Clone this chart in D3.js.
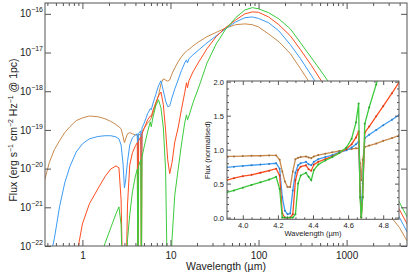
<!DOCTYPE html>
<html>
<head>
<meta charset="utf-8">
<script src="https://cdn.jsdelivr.net/npm/d3@7"></script>
<style>
  body { margin: 0; background: #fff; }
  text { font-family: "Liberation Sans", Arial, Helvetica, sans-serif; fill: #222; }
</style>
</head>
<body>
<svg id="chart" width="411" height="274"></svg>
<script>
// main SED: wavelength grid (um) and log10 flux (erg s-1 cm-2 Hz-1 @ 1pc) per model
const wave = [0.37,0.42,0.48,0.55,0.63,0.72,0.85,1.0,1.2,1.5,1.8,2.1,2.4,2.6,2.75,2.9,3.0,3.1,3.25,3.45,
  3.7,4.0,4.2,4.27,4.35,4.6,4.67,4.75,5.0,5.5,5.9,6.05,6.3,6.8,7.3,7.8,8.3,8.8,9.3,9.8,
  10.4,11.2,12.2,13.3,14.5,15.2,15.6,16.2,18,21,26,33,42,55,70,85,100,130,170,230,
  300,400,550,750,1000,1500,2000,3000,4000,5000];

const brownLogF = [-20.32,-19.85,-19.51,-19.28,-19.07,-18.92,-18.76,-18.69,-18.64,-18.66,
  -18.71,-18.78,-18.86,-18.92,-18.97,-19.18,-19.33,-19.23,-19.10,-19.07,
  -19.10,-19.13,-19.13,-19.49,-19.13,-19.10,-19.36,-19.07,-18.97,-18.82,
  -18.74,-18.69,-18.58,-18.33,-18.12,-17.81,-17.68,-17.71,-17.74,-17.71,
  -17.55,-17.40,-17.24,-17.11,-17.01,-16.96,-16.94,-16.92,-16.83,-16.72,
  -16.59,-16.48,-16.37,-16.28,-16.26,-16.28,-16.34,-16.52,-16.72,-17.03,
  -17.42,-17.86,-18.38,-18.89,-19.36,-20.03,-20.50,-21.17,-21.53,-21.92];

const blueLogF = [-23.13,-22.41,-21.81,-20.99,-20.37,-19.95,-19.57,-19.36,-19.23,-19.17,
  -19.15,-19.15,-19.18,-19.23,-19.39,-19.90,-20.50,-20.29,-19.82,-19.39,
  -19.20,-19.13,-19.10,-20.39,-19.09,-19.02,-20.55,-18.95,-18.84,-18.58,
  -18.45,-18.48,-18.33,-18.09,-17.86,-17.73,-17.99,-18.25,-18.40,-18.38,
  -18.17,-17.94,-17.71,-17.47,-17.27,-17.19,-17.27,-17.16,-17.06,-16.93,
  -16.75,-16.57,-16.39,-16.21,-16.10,-16.08,-16.12,-16.23,-16.44,-16.80,
  -17.16,-17.60,-18.09,-18.58,-19.02,-19.67,-20.13,-20.81,-21.27,-21.69];

const redLogF = [null,null,null,null,null,-23.00,-22.31,-21.43,-20.91,-20.52,
  -20.21,-20.01,-19.93,-19.98,-20.81,-23.5,-23.5,-23.5,-20.94,-19.90,
  -19.59,-19.41,-19.33,-23.5,-19.28,-19.18,-23.5,-19.10,-18.97,-18.74,
  -18.64,-18.66,-18.51,-18.30,-18.12,-18.02,-18.35,-19.00,-19.77,-20.13,
  -19.85,-19.31,-18.95,-18.48,-18.04,-17.78,-17.91,-17.73,-17.50,-17.24,
  -16.90,-16.59,-16.36,-16.16,-16.00,-15.95,-15.96,-16.08,-16.28,-16.57,
  -16.93,-17.34,-17.83,-18.33,-18.79,-19.46,-19.93,-20.60,-21.07,-21.48];

const greenLogF = [null,null,null,null,null,null,null,null,null,-22.49,
  -21.94,-21.53,-21.17,-20.99,-21.45,-23.5,-23.5,-23.5,-21.84,-21.19,
  -20.60,-20.19,-20.01,-23.5,-19.93,-19.77,-23.5,-19.70,-19.46,-19.05,
  -18.79,-18.92,-18.69,-18.38,-18.22,-18.43,-18.95,-20.03,-23.5,-23.5,
  -21.84,-20.68,-20.03,-19.39,-18.82,-18.61,-18.74,-18.64,-18.30,-17.89,
  -17.27,-16.78,-16.41,-16.10,-15.90,-15.84,-15.87,-15.97,-16.13,-16.39,
  -16.75,-17.14,-17.58,-18.02,-18.48,-19.15,-19.64,-20.37,-20.88,-21.30];

// inset: normalised flux around the CO2 / CO ice bands
const insetWave = [3.91,3.95,4.00,4.05,4.10,4.15,4.19,4.21,4.225,4.24,4.255,4.27,4.285,4.30,4.315,4.33,
  4.36,4.375,4.39,4.405,4.43,4.47,4.51,4.55,4.59,4.62,4.645,4.66,4.668,4.675,4.683,4.695,4.72,4.76,4.80,4.85,4.89];
const brownNorm = [0.90,0.90,0.905,0.91,0.91,0.915,0.915,0.85,0.68,0.53,0.45,0.45,0.68,0.86,0.88,0.89,
  0.90,0.885,0.875,0.90,0.92,0.94,0.96,0.98,1.00,1.01,1.02,1.02,0.80,0.55,0.85,1.04,1.06,1.09,1.13,1.17,1.21];
const blueNorm = [0.74,0.75,0.76,0.77,0.78,0.79,0.80,0.72,0.30,0.10,0.05,0.06,0.40,0.66,0.77,0.80,
  0.82,0.785,0.77,0.82,0.86,0.89,0.92,0.96,0.99,1.03,1.08,1.12,0.45,0.02,0.50,1.17,1.22,1.29,1.36,1.44,1.51];
const redNorm = [0.55,0.58,0.61,0.63,0.66,0.69,0.72,0.62,0.06,0.0,0.0,0.0,0.05,0.55,0.70,0.75,
  0.77,0.71,0.69,0.78,0.82,0.86,0.90,0.95,1.01,1.08,1.18,1.27,0.40,0.0,0.30,1.25,1.34,1.49,1.64,1.83,1.99];
const greenNorm = [0.37,0.40,0.44,0.48,0.52,0.56,0.60,0.42,0.0,0.0,0.0,0.0,0.0,0.05,0.50,0.62,
  0.66,0.60,0.55,0.70,0.78,0.84,0.89,0.95,1.03,1.16,1.40,1.68,0.30,0.0,0.30,1.38,1.62,1.96,2.30,null,null];

const xTickLabels = [1, 10, 100, 1000];
const yTickExps = [-22, -21, -20, -19, -18, -17, -16];
const insetXTicks = [4.0, 4.2, 4.4, 4.6, 4.8];
const insetYTicks = [0.0, 0.5, 1.0, 1.5, 2.0];

const models = [
  { color: '#c98a4c', logF: brownLogF, norm: brownNorm },
  { color: '#3d9bf5', logF: blueLogF, norm: blueNorm },
  { color: '#ff4d1f', logF: redLogF, norm: redNorm },
  { color: '#3ccb3c', logF: greenLogF, norm: greenNorm }
];

const svg = d3.select('#chart');
const axisCol = '#555';
const m = { left: 45, right: 407, top: 3, bottom: 246 };

const x = d3.scaleLog().domain([0.376, 4850]).range([m.left, m.right]);
const y = d3.scaleLog().domain([1e-22, Math.pow(10, -15.72)]).range([m.bottom, m.top]);

const defs = svg.append('defs');
defs.append('clipPath').attr('id', 'clipMain').append('rect')
  .attr('x', m.left).attr('y', m.top).attr('width', m.right - m.left).attr('height', m.bottom - m.top);

// main curves
const mainLine = d3.line()
  .defined(d => d[1] != null)
  .x(d => x(d[0]))
  .y(d => y(d[1]));

const gLines = svg.append('g').attr('clip-path', 'url(#clipMain)');
models.forEach(md => {
  const pts = wave.map((w, i) => [w, md.logF[i] == null ? null : Math.pow(10, md.logF[i])]);
  gLines.append('path').datum(pts)
    .attr('d', mainLine)
    .attr('fill', 'none')
    .attr('stroke', md.color)
    .attr('stroke-width', 1);
});

// main axes, ticks inward on all four sides
const minorX = [];
for (let e = -1; e <= 3; e++) {
  for (let k = 1; k < 10; k++) {
    const v = +(k * Math.pow(10, e)).toPrecision(3);
    if (v >= 0.376 && v <= 4850 && !xTickLabels.includes(v)) minorX.push(v);
  }
}
const yTicks = yTickExps.map(e => Math.pow(10, e));

function plain(g) {
  g.select('.domain').remove();
  g.attr('color', axisCol);
}

svg.append('g').attr('transform', `translate(0,${m.bottom})`)
  .call(d3.axisBottom(x).tickValues(xTickLabels).tickSize(-6).tickPadding(6).tickFormat(d3.format('d')))
  .call(plain)
  .call(g => g.selectAll('text').attr('font-size', 10).attr('fill', '#222'));
svg.append('g').attr('transform', `translate(0,${m.bottom})`)
  .call(d3.axisBottom(x).tickValues(minorX).tickSize(-3).tickFormat(''))
  .call(plain);
svg.append('g').attr('transform', `translate(0,${m.top})`)
  .call(d3.axisTop(x).tickValues(xTickLabels).tickSize(-6).tickFormat(''))
  .call(plain);
svg.append('g').attr('transform', `translate(0,${m.top})`)
  .call(d3.axisTop(x).tickValues(minorX).tickSize(-3).tickFormat(''))
  .call(plain);
svg.append('g').attr('transform', `translate(${m.left},0)`)
  .call(d3.axisLeft(y).tickValues(yTicks).tickSize(-6).tickFormat(''))
  .call(plain);
svg.append('g').attr('transform', `translate(${m.right},0)`)
  .call(d3.axisRight(y).tickValues(yTicks).tickSize(-6).tickFormat(''))
  .call(plain);

svg.append('rect')
  .attr('x', m.left).attr('y', m.top).attr('width', m.right - m.left).attr('height', m.bottom - m.top)
  .attr('fill', 'none').attr('stroke', axisCol).attr('stroke-width', 1);

// y tick labels as powers of ten
yTickExps.forEach(e => {
  const t = svg.append('text')
    .attr('x', 43).attr('y', y(Math.pow(10, e)) + 3.6)
    .attr('text-anchor', 'end').attr('font-size', 10);
  t.append('tspan').text('10');
  t.append('tspan').attr('dy', -5).attr('font-size', 7).text('\u2212' + Math.abs(e));
});

svg.append('text')
  .attr('x', (m.left + m.right) / 2).attr('y', 270)
  .attr('text-anchor', 'middle').attr('font-size', 10.5)
  .text('Wavelength (\u00b5m)');

const yt = svg.append('text')
  .attr('transform', 'translate(16.5,130) rotate(-90)')
  .attr('text-anchor', 'middle').attr('font-size', 10.5);
yt.append('tspan').text('Flux (erg s');
yt.append('tspan').attr('dy', -4).attr('font-size', 7).text('\u22121');
yt.append('tspan').attr('dy', 4).text(' cm');
yt.append('tspan').attr('dy', -4).attr('font-size', 7).text('\u22122');
yt.append('tspan').attr('dy', 4).text(' Hz');
yt.append('tspan').attr('dy', -4).attr('font-size', 7).text('\u22121');
yt.append('tspan').attr('dy', 4).text(' @ 1pc)');

// ---- inset ----
const ib = { left: 227, right: 399, top: 81, bottom: 219.3 };
const xi = d3.scaleLinear().domain([3.91, 4.89]).range([ib.left, ib.right]);
const yi = d3.scaleLinear().domain([-0.025, 2.01]).range([ib.bottom, ib.top]);

svg.append('rect')
  .attr('x', ib.left).attr('y', ib.top).attr('width', ib.right - ib.left).attr('height', ib.bottom - ib.top)
  .attr('fill', '#fff');

defs.append('clipPath').attr('id', 'clipInset').append('rect')
  .attr('x', ib.left).attr('y', ib.top).attr('width', ib.right - ib.left).attr('height', ib.bottom - ib.top);

const insetLine = d3.line()
  .defined(d => d[1] != null)
  .x(d => xi(d[0]))
  .y(d => yi(d[1]));

const gInset = svg.append('g').attr('clip-path', 'url(#clipInset)');
models.forEach(md => {
  const pts = insetWave.map((w, i) => [w, md.norm[i]]);
  gInset.append('path').datum(pts)
    .attr('d', insetLine)
    .attr('fill', 'none')
    .attr('stroke', md.color)
    .attr('stroke-width', 1.3);
  gInset.selectAll(null).data(pts.filter(d => d[1] != null)).enter()
    .append('circle')
    .attr('cx', d => xi(d[0])).attr('cy', d => yi(d[1]))
    .attr('r', 1)
    .attr('fill', d3.color(md.color).darker(0.6));
});

const minorXi = d3.range(3.95, 4.89, 0.05).map(v => +v.toFixed(2)).filter(v => !insetXTicks.includes(v));
const minorYi = d3.range(0.1, 2.0, 0.1).map(v => +v.toFixed(1)).filter(v => !insetYTicks.includes(v));

svg.append('g').attr('transform', `translate(0,${ib.bottom})`)
  .call(d3.axisBottom(xi).tickValues(insetXTicks).tickSize(-4).tickPadding(3).tickFormat(d3.format('.1f')))
  .call(plain)
  .call(g => g.selectAll('text').attr('font-size', 7.5).attr('fill', '#222'));
svg.append('g').attr('transform', `translate(0,${ib.bottom})`)
  .call(d3.axisBottom(xi).tickValues(minorXi).tickSize(-2).tickFormat('')).call(plain);
svg.append('g').attr('transform', `translate(0,${ib.top})`)
  .call(d3.axisTop(xi).tickValues(insetXTicks).tickSize(-4).tickFormat('')).call(plain);
svg.append('g').attr('transform', `translate(0,${ib.top})`)
  .call(d3.axisTop(xi).tickValues(minorXi).tickSize(-2).tickFormat('')).call(plain);
svg.append('g').attr('transform', `translate(${ib.left},0)`)
  .call(d3.axisLeft(yi).tickValues(insetYTicks).tickSize(-4).tickPadding(3).tickFormat(d3.format('.1f')))
  .call(plain)
  .call(g => g.selectAll('text').attr('font-size', 7.5).attr('fill', '#222'));
svg.append('g').attr('transform', `translate(${ib.left},0)`)
  .call(d3.axisLeft(yi).tickValues(minorYi).tickSize(-2).tickFormat('')).call(plain);
svg.append('g').attr('transform', `translate(${ib.right},0)`)
  .call(d3.axisRight(yi).tickValues(insetYTicks).tickSize(-4).tickFormat('')).call(plain);
svg.append('g').attr('transform', `translate(${ib.right},0)`)
  .call(d3.axisRight(yi).tickValues(minorYi).tickSize(-2).tickFormat('')).call(plain);

svg.append('rect')
  .attr('x', ib.left).attr('y', ib.top).attr('width', ib.right - ib.left).attr('height', ib.bottom - ib.top)
  .attr('fill', 'none').attr('stroke', axisCol).attr('stroke-width', 1);

svg.append('text')
  .attr('x', (ib.left + ib.right) / 2).attr('y', 236)
  .attr('text-anchor', 'middle').attr('font-size', 7.5)
  .text('Wavelength (\u00b5m)');
svg.append('text')
  .attr('transform', `translate(210,${(ib.top + ib.bottom) / 2}) rotate(-90)`)
  .attr('text-anchor', 'middle').attr('font-size', 7.5)
  .text('Flux (normalised)');
</script>
</body>
</html>
